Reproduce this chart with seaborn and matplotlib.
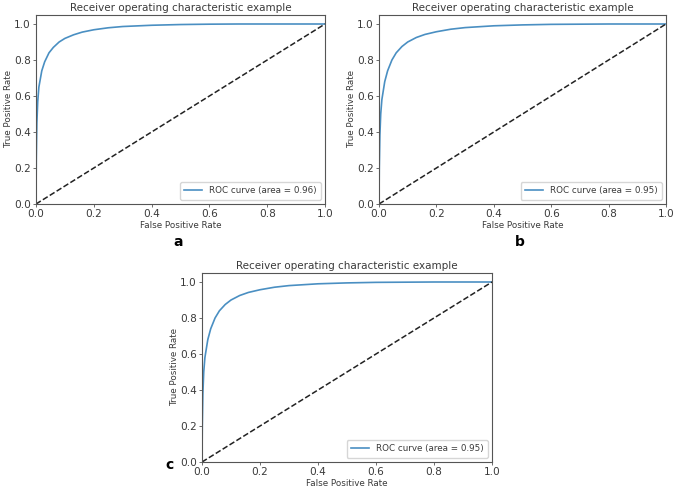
import matplotlib
matplotlib.use("Agg")
import matplotlib.pyplot as plt
import seaborn as sns
import pandas as pd

# ROC curves (fpr, tpr)
fpr_a = [0.0, 0.001, 0.003, 0.006, 0.01, 0.02, 0.03, 0.045, 0.06, 0.08, 0.1, 0.13, 0.16, 0.2, 0.25, 0.3, 0.4, 0.5, 0.6, 0.7, 0.8, 0.9, 1.0]
tpr_a = [0.0, 0.25, 0.45, 0.57, 0.65, 0.74, 0.79, 0.84, 0.87, 0.90, 0.92, 0.94, 0.955, 0.968, 0.979, 0.986, 0.993, 0.997, 0.999, 1.0, 1.0, 1.0, 1.0]

fpr_b = [0.0, 0.001, 0.003, 0.006, 0.01, 0.02, 0.03, 0.045, 0.06, 0.08, 0.1, 0.13, 0.16, 0.2, 0.25, 0.3, 0.4, 0.5, 0.6, 0.7, 0.8, 0.9, 1.0]
tpr_b = [0.0, 0.2, 0.38, 0.5, 0.58, 0.68, 0.74, 0.80, 0.84, 0.875, 0.90, 0.925, 0.942, 0.957, 0.971, 0.98, 0.99, 0.995, 0.998, 0.999, 1.0, 1.0, 1.0]

fpr_c = [0.0, 0.001, 0.003, 0.006, 0.01, 0.02, 0.03, 0.045, 0.06, 0.08, 0.1, 0.13, 0.16, 0.2, 0.25, 0.3, 0.4, 0.5, 0.6, 0.7, 0.8, 0.9, 1.0]
tpr_c = [0.0, 0.2, 0.38, 0.5, 0.58, 0.68, 0.74, 0.80, 0.84, 0.875, 0.90, 0.925, 0.942, 0.957, 0.971, 0.98, 0.99, 0.995, 0.998, 0.999, 1.0, 1.0, 1.0]

areas = [0.96, 0.95, 0.95]
panel_tags = ["a", "b", "c"]
diag = [0.0, 1.0]

txt = "#3a3a3a"
plt.rcParams["font.family"] = ["DejaVu Sans"]
plt.rcParams["axes.edgecolor"] = "#555555"
plt.rcParams["xtick.color"] = "#555555"
plt.rcParams["ytick.color"] = "#555555"
plt.rcParams["xtick.labelcolor"] = txt
plt.rcParams["ytick.labelcolor"] = txt

fig = plt.figure(figsize=(6.76, 4.91), dpi=100)
W, H = 676, 491
# left, top, right, bottom in pixels
boxes = [(36, 15, 325, 204), (379, 15, 666, 204), (202, 273, 492, 462)]
tag_pos = [(178, 242), (520, 242), (170, 465)]
curves = [(fpr_a, tpr_a), (fpr_b, tpr_b), (fpr_c, tpr_c)]

for (l, t, r, b), (fx, ty), area, tag, (tx, tyy) in zip(boxes, curves, areas, panel_tags, tag_pos):
    ax = fig.add_axes([l / W, 1 - b / H, (r - l) / W, (b - t) / H])
    df = pd.DataFrame({"fpr": fx, "tpr": ty})
    sns.lineplot(data=df, x="fpr", y="tpr", ax=ax, color="#4a8fc2", lw=1.2,
                 label="ROC curve (area = %0.2f)" % area, estimator=None, sort=False)
    sns.lineplot(x=diag, y=diag, ax=ax, color="#222222", lw=1.1, linestyle="--")
    ax.set_xlim(0.0, 1.0)
    ax.set_ylim(0.0, 1.05)
    ax.set_xticks([0.0, 0.2, 0.4, 0.6, 0.8, 1.0])
    ax.set_yticks([0.0, 0.2, 0.4, 0.6, 0.8, 1.0])
    ax.tick_params(labelsize=7.6, length=2.5, width=0.6, pad=1.2)
    for s in ax.spines.values():
        s.set_linewidth(0.8)
    ax.set_xlabel("False Positive Rate", fontsize=6.3, color=txt, labelpad=1)
    ax.set_ylabel("True Positive Rate", fontsize=6.3, color=txt, labelpad=1)
    ax.set_title("Receiver operating characteristic example", fontsize=7.5, color=txt, pad=3)
    leg = ax.legend(loc="lower right", fontsize=6.3, handlelength=2.0, borderpad=0.5,
                    labelcolor=txt)
    leg.get_frame().set_edgecolor("#cccccc")
    fig.text(tx / W, 1 - tyy / H, tag, fontsize=10, fontweight="bold",
             ha="center", va="center", color="black")

fig.savefig("out.png", dpi=100)
